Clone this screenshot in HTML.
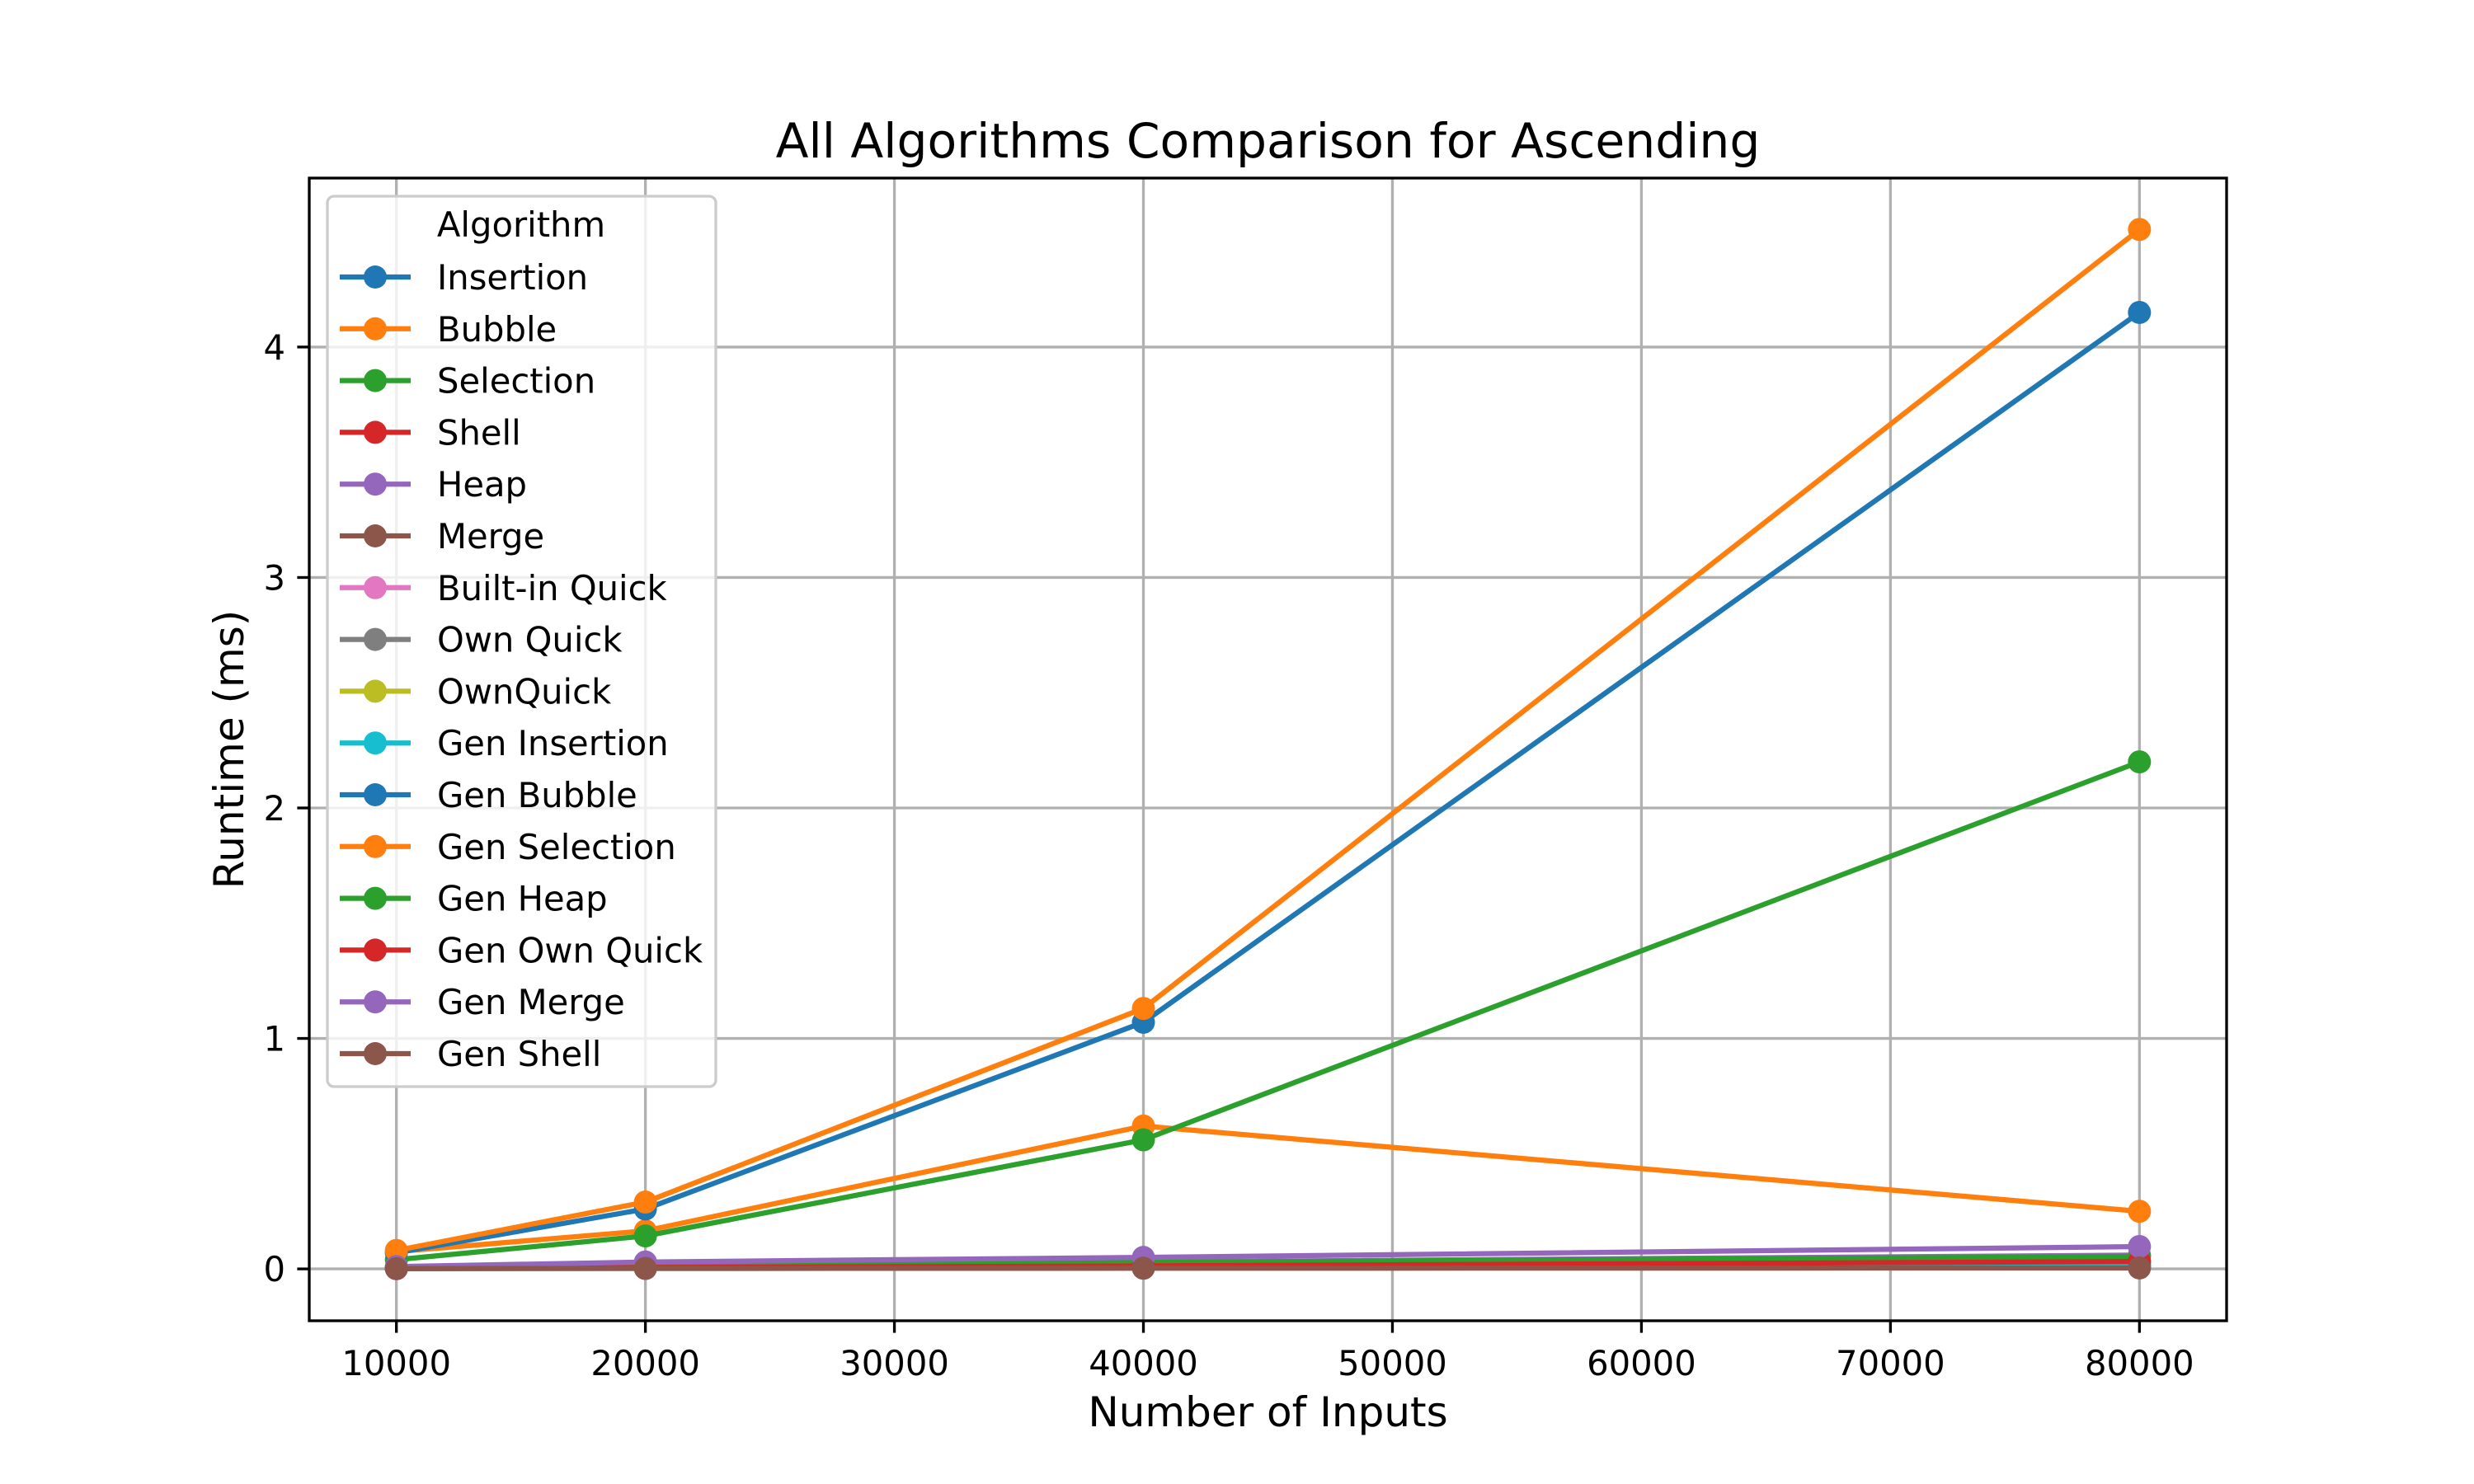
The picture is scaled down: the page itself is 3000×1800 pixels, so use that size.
<!DOCTYPE html>
<html><head><meta charset="utf-8"><style>html,body{margin:0;padding:0;background:#fff}svg{display:block}text{font-family:"DejaVu Sans","Liberation Sans",sans-serif}</style></head>
<body>
<svg id="chart" width="3000" height="1800" viewBox="0 0 3000 1800" xmlns="http://www.w3.org/2000/svg">
<rect width="3000" height="1800" fill="#fff"/>
<g id="grid"></g><g id="series"></g><g id="axes"></g><g id="legend"></g>
</svg>
<script>
const inputs=[10000,20000,40000,80000];
const names=["Insertion","Bubble","Selection","Shell","Heap","Merge","Built-in Quick","Own Quick","OwnQuick","Gen Insertion","Gen Bubble","Gen Selection","Gen Heap","Gen Own Quick","Gen Merge","Gen Shell"];
const colors=["#1f77b4","#ff7f0e","#2ca02c","#d62728","#9467bd","#8c564b","#e377c2","#7f7f7f","#bcbd22","#17becf","#1f77b4","#ff7f0e","#2ca02c","#d62728","#9467bd","#8c564b"];
const sInsertion=[0.002,0.004,0.008,0.015];
const sBubble=[0.075,0.165,0.62,0.25];
const sSelection=[0.04,0.143,0.56,2.2];
const sShell=[0.003,0.006,0.014,0.03];
const sHeap=[0.006,0.014,0.03,0.06];
const sMerge=[0.004,0.008,0.016,0.035];
const sBuiltin=[0.001,0.002,0.004,0.008];
const sOwnQuick=[0.002,0.004,0.008,0.016];
const sOwnQuick2=[0.002,0.004,0.008,0.016];
const sGenInsertion=[0.002,0.004,0.008,0.016];
const sGenBubble=[0.07,0.26,1.07,4.15];
const sGenSelection=[0.08,0.29,1.13,4.51];
const sGenHeap=[0.006,0.013,0.028,0.054];
const sGenOwnQuick=[0.003,0.006,0.013,0.032];
const sGenMerge=[0.01,0.03,0.05,0.097];
const sGenShell=[0.001,0.002,0.003,0.004];
const seriesVals=[sInsertion,sBubble,sSelection,sShell,sHeap,sMerge,sBuiltin,sOwnQuick,sOwnQuick2,sGenInsertion,sGenBubble,sGenSelection,sGenHeap,sGenOwnQuick,sGenMerge,sGenShell];
const xTicks=[10000,20000,30000,40000,50000,60000,70000,80000];
const yTicks=[0,1,2,3,4];
const NS="http://www.w3.org/2000/svg";
const L=375,R=2700,T=216,B=1602;
const xmin=6500,xmax=83500,ymin=-0.225,ymax=4.733;
const X=v=>L+(v-xmin)/(xmax-xmin)*(R-L);
const Y=v=>B-(v-ymin)/(ymax-ymin)*(B-T);
function mk(tag,attrs,parent,txt){const e=document.createElementNS(NS,tag);for(const k in attrs)e.setAttribute(k,attrs[k]);if(txt!==undefined)e.textContent=txt;parent.appendChild(e);return e;}
const grid=document.getElementById('grid'),ser=document.getElementById('series'),ax=document.getElementById('axes'),lg=document.getElementById('legend');
xTicks.forEach(t=>{const l=mk('line',{x1:X(t),x2:X(t),y1:T,y2:B,stroke:'#b0b0b0','stroke-width':3.33},grid);
const tk=mk('line',{x1:X(t),x2:X(t),y1:B,y2:B+14.6,stroke:'#000','stroke-width':3.33},ax);
const tx=mk('text',{x:X(t),y:B+66,'font-size':41.7,'text-anchor':'middle'},ax,String(t));});
yTicks.forEach(t=>{const l=mk('line',{x1:L,x2:R,y1:Y(t),y2:Y(t),stroke:'#b0b0b0','stroke-width':3.33},grid);
const tk=mk('line',{x1:L-14.6,x2:L,y1:Y(t),y2:Y(t),stroke:'#000','stroke-width':3.33},ax);
const tx=mk('text',{x:L-29,y:Y(t)+15,'font-size':41.7,'text-anchor':'end'},ax,String(t));});
seriesVals.forEach((vals,i)=>{const g=mk('g',{},ser);
const pts=vals.map((v,j)=>X(inputs[j])+','+Y(v)).join(' ');
mk('polyline',{points:pts,fill:'none',stroke:colors[i],'stroke-width':6.25,'stroke-linejoin':'round','stroke-linecap':'square'},g);
vals.forEach((v,j)=>{const c=mk('circle',{cx:X(inputs[j]),cy:Y(v),r:14,fill:colors[i]},g);});});
const frame=mk('rect',{x:L,y:T,width:R-L,height:B-T,fill:'none',stroke:'#000','stroke-width':3.33},ax);
const ti=mk('text',{x:(L+R)/2,y:191,'font-size':58.3,'text-anchor':'middle'},ax,'All Algorithms Comparison for Ascending');
const xl=mk('text',{x:(L+R)/2,y:1730,'font-size':50,'text-anchor':'middle'},ax,'Number of Inputs');
const yl=mk('text',{x:0,y:0,'font-size':50,'text-anchor':'middle',transform:'translate(295,'+((T+B)/2)+') rotate(-90)'},ax,'Runtime (ms)');
const lb=mk('rect',{x:397,y:238,width:471,height:1080,rx:8,fill:'#fff','fill-opacity':0.8,stroke:'#ccc','stroke-width':3.33},lg);
const lt=mk('text',{x:632,y:287,'font-size':41.7,'text-anchor':'middle'},lg,'Algorithm');
names.forEach((n,i)=>{const y=336+i*62.8;const g=mk('g',{},lg);
mk('line',{x1:412,x2:498,y1:y,y2:y,stroke:colors[i],'stroke-width':6.25},g);
mk('circle',{cx:455,cy:y,r:14,fill:colors[i]},g);
mk('text',{x:530,y:y+15,'font-size':41.7},g,n);});
</script>
</body></html>
